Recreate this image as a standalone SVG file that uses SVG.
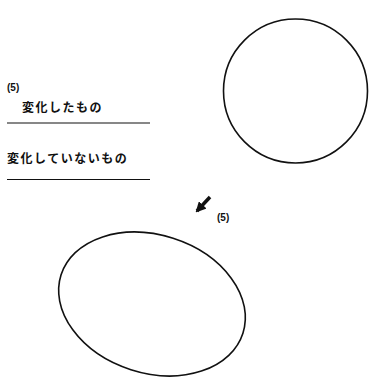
<svg xmlns="http://www.w3.org/2000/svg" width="376" height="388" viewBox="0 0 376 388">
<style>
.t{font-family:"Liberation Sans","Noto Sans CJK JP",sans-serif;fill:#111;font-weight:bold}
.s{font-size:10px}
.j{font-size:12px;letter-spacing:1.5px}
.ln{stroke:#111;stroke-width:1.2;fill:none}
.sh{stroke:#111;stroke-width:1.6;fill:none}
</style>
<defs>
<marker id="ah" viewBox="0 0 10 10" refX="8" refY="5" markerWidth="3" markerHeight="3" orient="auto"><path d="M0,0L10,5L0,10z" fill="#111"/></marker>
</defs>
<g id="legend">
<text class="t s" x="7" y="91">(5)</text>
<text class="t j" x="22" y="112">変化したもの</text>
<line class="ln" x1="7" y1="123" x2="150" y2="123"/>
<text class="t j" x="7" y="163">変化していないもの</text>
<line class="ln" x1="7" y1="179.5" x2="150" y2="179.5"/>
</g>
<g id="circle">
<circle class="sh" cx="295.5" cy="91" r="72"/>
</g>
<g id="ellipse">
<ellipse class="sh" cx="152" cy="304" rx="95.5" ry="69" transform="rotate(17.8 152 304)"/>
</g>
<g id="connectors">
<line x1="210" y1="197" x2="197" y2="211" stroke="#111" stroke-width="3.5" marker-end="url(#ah)"/>
<text class="t s" x="217" y="221">(5)</text>
</g>
</svg>
